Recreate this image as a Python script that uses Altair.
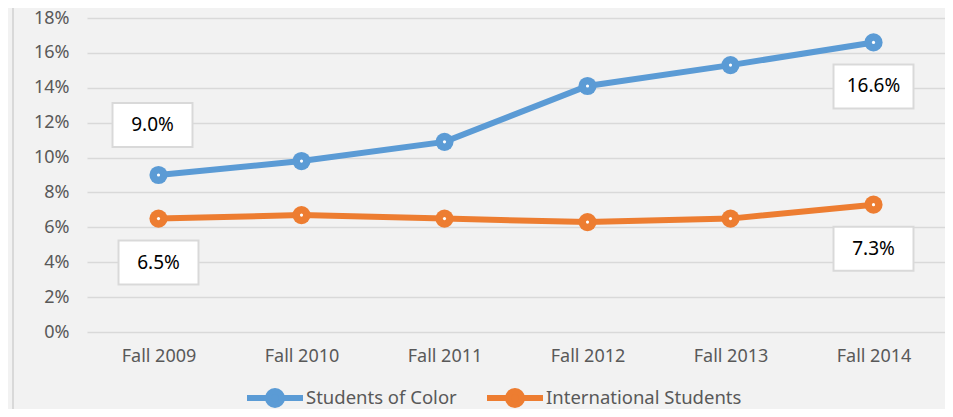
import altair as alt
import pandas as pd

years = ["Fall 2009", "Fall 2010", "Fall 2011", "Fall 2012", "Fall 2013", "Fall 2014"]
color_students = [9.0, 9.8, 10.9, 14.1, 15.3, 16.6]
international = [6.5, 6.7, 6.5, 6.3, 6.5, 7.3]
series_names = ["Students of Color", "International Students"]
series_colors = ["#5b9bd5", "#ed7d31"]
y_ticks = [0, 2, 4, 6, 8, 10, 12, 14, 16, 18]

rows = []
for y, a, b in zip(years, color_students, international):
    rows.append({"year": y, "series": series_names[0], "value": a / 100})
    rows.append({"year": y, "series": series_names[1], "value": b / 100})
df = pd.DataFrame(rows)

# labels: first and last point of each series
lab_above = pd.DataFrame([{"year": years[0], "value": color_students[0] / 100, "txt": "9.0%"}])
lab_below = pd.DataFrame([
    {"year": years[0], "value": international[0] / 100, "txt": "6.5%"},
    {"year": years[-1], "value": color_students[-1] / 100, "txt": "16.6%"},
    {"year": years[-1], "value": international[-1] / 100, "txt": "7.3%"},
])

FONT = "Noto Sans"
FS = 18
x_enc = alt.X("year:N", sort=years, title=None,
              scale=alt.Scale(type="point", padding=0.5),
              axis=alt.Axis(labelAngle=0, ticks=False, domain=False, grid=False,
                            labelPadding=15))
y_enc = alt.Y("value:Q", title=None,
              scale=alt.Scale(domain=[0, 0.18], nice=False),
              axis=alt.Axis(format=".0%", values=[v / 100 for v in y_ticks],
                            labelOverlap=False, ticks=False, domain=False, grid=True,
                            labelPadding=18))
color_enc = alt.Color("series:N", sort=series_names,
                      scale=alt.Scale(domain=series_names, range=series_colors),
                      legend=alt.Legend(title=None, orient="none", direction="horizontal",
                                        legendX=157, legendY=349,
                                        symbolType="M-1,0 L-0.25,0 M0.25,0 L1,0 M-0.25,0 A0.25,0.25 0 1,1 0.25,0 A0.25,0.25 0 1,1 -0.25,0 Z",
                                        symbolSize=3136, symbolStrokeWidth=6,
                                        labelFontSize=18.5, labelColor="#595959", labelFont=FONT,
                                        labelOffset=0, columnPadding=18, labelLimit=400))
color_nolegend = alt.Color("series:N", sort=series_names,
                           scale=alt.Scale(domain=series_names, range=series_colors), legend=None)

base = alt.Chart(df)
lines = base.mark_line(strokeWidth=6).encode(x=x_enc, y=y_enc, color=color_enc)
points = base.mark_point(filled=True, size=330, opacity=1).encode(x=x_enc, y=y_enc, color=color_nolegend)
dots = base.mark_point(filled=True, size=10, color="white", opacity=1).encode(x=x_enc, y=y_enc)

box_shape = "M-1,-0.55 L1,-0.55 L1,0.55 L-1,0.55 Z"

def label_layer(d, dx, dy):
    b = alt.Chart(d)
    box = b.mark_point(shape=box_shape, size=6400, filled=True, fill="white",
                       stroke="#d9d9d9", strokeWidth=2, opacity=1,
                       xOffset=dx, yOffset=dy).encode(x=x_enc, y=y_enc)
    txt = b.mark_text(fontSize=19, font=FONT, color="#000000", xOffset=dx, yOffset=dy).encode(
        x=x_enc, y=y_enc, text="txt:N")
    return box + txt

border = alt.Chart(pd.DataFrame({"k": [0]})).mark_rule(color="#d9d9d9", strokeWidth=2).encode(
    x=alt.value(-74), y=alt.value(-18), y2=alt.value(400))

chart = alt.layer(
    border, lines, points, dots,
    label_layer(lab_above, -6, -50),
    label_layer(lab_below, 0, 44),
).properties(
    width=858, height=314,
    background="#f2f2f2",
    padding={"left": 79, "top": 10, "right": 0, "bottom": 77},
    autosize=alt.AutoSizeParams(type="none"),
).configure_view(stroke=None).configure_axis(
    labelFontSize=FS, labelColor="#595959", labelFont=FONT,
    gridColor="#d9d9d9", gridWidth=1.5, labelOverlap=False,
)

chart.save("out.html", embed_options={"renderer": "svg", "actions": False})
